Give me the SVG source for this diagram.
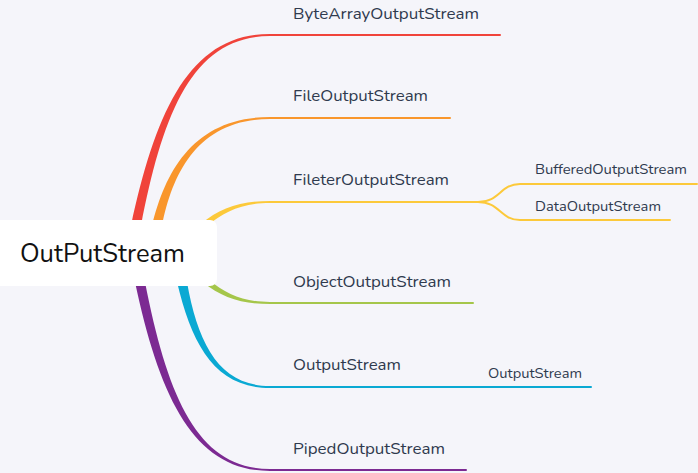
<svg xmlns="http://www.w3.org/2000/svg" width="698" height="473" viewBox="0 0 698 473">
<style>
.lbl{font-family:"Nunito","Open Sans","Noto Sans",sans-serif;font-size:16.5px;fill:#2f3a4e}
.sub{font-family:"Nunito","Open Sans","Noto Sans",sans-serif;font-size:14.5px;fill:#2f3a4e}
.root{font-family:"Nunito","Open Sans","Noto Sans",sans-serif;font-size:25px;fill:#111}
.ln{fill:none;stroke-width:2;stroke-linecap:round}
</style>
<rect width="698" height="473" fill="#f5f5fa"/>
<g id="connectors">
  <path d="M131,226 C156,110 190,34 270,34 L270,36 C193,36 163,112 141,226 Z" fill="#f0433a"/>
  <path class="ln" stroke="#f0433a" d="M270,35 H500"/>
  <path d="M152,226 C166,168 196,117 270,117 L270,119 C200,119 173,170 162,226 Z" fill="#f9962c"/>
  <path class="ln" stroke="#f9962c" d="M270,118 H450"/>
  <path d="M201,224 C220,208 240,201 270,201 L270,203 C242,203 224,212 207,226 Z" fill="#fcc93a"/>
  <path class="ln" stroke="#fcc93a" d="M270,202 H478 C500,202 500,184 520,184 H697 M478,202 C500,202 500,220 520,220 H670"/>
  <path d="M203,282 C222,298 242,304 270,304 L270,302 C244,302 226,294 209,280 Z" fill="#a5c64a"/>
  <path class="ln" stroke="#a5c64a" d="M270,303 H473"/>
  <path d="M177,282 C192,345 215,388 270,388 L270,386 C220,386 198,345 187,282 Z" fill="#0aa9d3"/>
  <path class="ln" stroke="#0aa9d3" d="M270,387 H591"/>
  <path d="M135,282 C160,400 195,471 270,471 L270,469 C199,469 168,400 145,282 Z" fill="#7c2a92"/>
  <path class="ln" stroke="#7c2a92" d="M270,470 H466"/>
</g>
<g id="root">
  <rect x="-10" y="220" width="227" height="66" rx="7" fill="#fff"/>
  <text class="root" x="20" y="262" textLength="165" lengthAdjust="spacingAndGlyphs">OutPutStream</text>
</g>
<g id="n1"><text class="lbl" x="293" y="19" textLength="186" lengthAdjust="spacingAndGlyphs">ByteArrayOutputStream</text></g>
<g id="n2"><text class="lbl" x="293" y="101" textLength="135" lengthAdjust="spacingAndGlyphs">FileOutputStream</text></g>
<g id="n3"><text class="lbl" x="293" y="185" textLength="156" lengthAdjust="spacingAndGlyphs">FileterOutputStream</text></g>
<g id="n3a"><text class="sub" x="535" y="174" textLength="152" lengthAdjust="spacingAndGlyphs">BufferedOutputStream</text></g>
<g id="n3b"><text class="sub" x="535" y="211" textLength="126" lengthAdjust="spacingAndGlyphs">DataOutputStream</text></g>
<g id="n4"><text class="lbl" x="293" y="287" textLength="158" lengthAdjust="spacingAndGlyphs">ObjectOutputStream</text></g>
<g id="n5"><text class="lbl" x="293" y="370" textLength="108" lengthAdjust="spacingAndGlyphs">OutputStream</text></g>
<g id="n5a"><text class="sub" x="488" y="378" textLength="94" lengthAdjust="spacingAndGlyphs">OutputStream</text></g>
<g id="n6"><text class="lbl" x="293" y="454" textLength="152" lengthAdjust="spacingAndGlyphs">PipedOutputStream</text></g>
</svg>
